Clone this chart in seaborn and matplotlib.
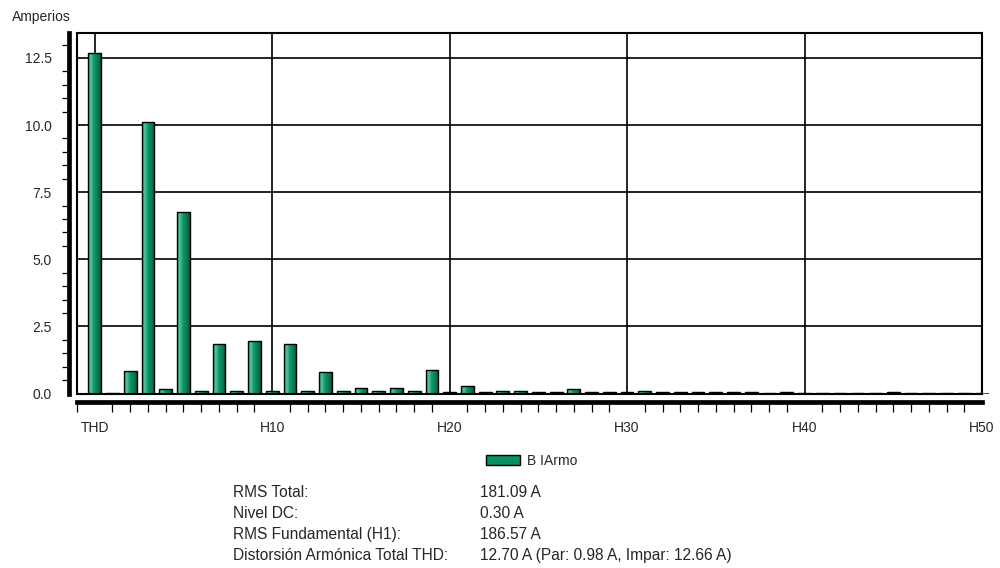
import numpy as np
import pandas as pd
import matplotlib
matplotlib.use("Agg")
import matplotlib.pyplot as plt
import seaborn as sns
from matplotlib.ticker import MultipleLocator, FixedLocator, FixedFormatter, FormatStrFormatter
from matplotlib.colors import LinearSegmentedColormap
from matplotlib.patches import Patch

# Harmonic orders (0 = THD) and their current amplitudes in amperes
armonicos = list(range(0, 51))
amperios = [
    12.70, 0.01, 0.85, 10.12, 0.16, 6.75, 0.09, 1.83, 0.09, 1.94,
    0.09, 1.83, 0.09, 0.80, 0.09, 0.20, 0.09, 0.20, 0.09, 0.89,
    0.04, 0.28, 0.05, 0.10, 0.10, 0.05, 0.05, 0.16, 0.05, 0.05,
    0.05, 0.10, 0.05, 0.05, 0.05, 0.05, 0.05, 0.05, 0.02, 0.05,
    0.02, 0.02, 0.02, 0.02, 0.02, 0.05, 0.02, 0.02, 0.02, 0.02,
    0.02,
]
x_ticks = [0, 10, 20, 30, 40, 50]
x_labels = ["THD", "H10", "H20", "H30", "H40", "H50"]
serie = "B IArmo"

etiquetas = ["RMS Total:", "Nivel DC:", "RMS Fundamental (H1):",
             "Distorsión Armónica Total THD:"]
valores = ["181.09 A", "0.30 A", "186.57 A",
           "12.70 A (Par: 0.98 A, Impar: 12.66 A)"]

sns.set_theme(style="white")
plt.rcParams["font.family"] = ["Liberation Sans", "DejaVu Sans"]
plt.rcParams["font.size"] = 10

verde = "#0a8f5f"
df = pd.DataFrame({"armonico": armonicos, "amperios": amperios})

fig = plt.figure(figsize=(10, 5.68), dpi=100)
ax = fig.add_axes([0.077, 0.3072, 0.905, 0.6347])

sns.barplot(data=df, x="armonico", y="amperios", native_scale=True,
            width=0.72, color=verde, edgecolor="black", linewidth=1.0,
            errorbar=None, ax=ax)

# Shaded cylinder-like fill for every bar
grad = LinearSegmentedColormap.from_list(
    "barra", [(0.0, "#2e9f74"), (0.22, "#5cc09a"), (0.45, "#12966a"),
              (0.8, "#007a50"), (1.0, "#00583a")])
ramp = np.linspace(0, 1, 64).reshape(1, -1)
for p in list(ax.patches):
    x0, y0 = p.get_x(), p.get_y()
    w, h = p.get_width(), p.get_height()
    if h <= 0:
        continue
    im = ax.imshow(ramp, cmap=grad, aspect="auto",
                   extent=(x0, x0 + w, y0, y0 + h), zorder=2,
                   interpolation="bilinear")
    im.set_clip_path(p)
    p.set_facecolor("none")
    p.set_zorder(3)

ax.set_xlim(-1, 50)
ax.set_ylim(0, 13.43)
ax.set_xlabel("")
ax.set_ylabel("")

ax.xaxis.set_major_locator(FixedLocator(x_ticks))
ax.xaxis.set_major_formatter(FixedFormatter(x_labels))
ax.xaxis.set_minor_locator(MultipleLocator(1))
ax.yaxis.set_major_locator(MultipleLocator(2.5))
ax.yaxis.set_major_formatter(FormatStrFormatter("%.1f"))
ax.yaxis.set_minor_locator(MultipleLocator(0.5))

ax.grid(True, which="major", color="black", linewidth=1.2)
ax.set_axisbelow(True)

for s in ("top", "right"):
    ax.spines[s].set_color("black")
    ax.spines[s].set_linewidth(1.5)
for s in ("left", "bottom"):
    ax.spines[s].set_color("black")
    ax.spines[s].set_linewidth(3.4)
    ax.spines[s].set_position(("outward", 5.9))

# Inner frame edges on the left and along the baseline
ax.plot([0, 0], [0, 1], transform=ax.transAxes, color="black", lw=1.5,
        clip_on=False, zorder=4)
ax.plot([0, 1], [0, 0], transform=ax.transAxes, color="black", lw=1.5,
        clip_on=False, zorder=4)

ax.tick_params(axis="y", which="major", direction="out", length=10,
               width=0.9, color="black", pad=2.4, labelsize=10)
ax.tick_params(axis="y", which="minor", direction="out", length=5.3,
               width=0.9, color="black", left=True)
ax.tick_params(axis="x", which="major", direction="out", length=9.6,
               width=0.9, color="black", pad=4, labelsize=10)
ax.tick_params(axis="x", which="minor", direction="out", length=7.2,
               width=0.9, color="black", bottom=True)

fig.text(0.0117, 1 - 16.7 / 568, "Amperios", fontsize=10,
         va="center", ha="left")

fig.legend(handles=[Patch(facecolor=verde, edgecolor="black", linewidth=1,
                          label=serie)],
           loc="center", bbox_to_anchor=(0.532, 1 - 461 / 568),
           frameon=False, fontsize=10, handlelength=2.45,
           handleheight=0.7, handletextpad=0.5)

ys = [492.8, 513.8, 534.8, 555.8]
for lab, val, y in zip(etiquetas, valores, ys):
    fy = 1 - y / 568
    fig.text(0.233, fy, lab, fontsize=11.2, va="center", ha="left")
    fig.text(0.480, fy, val, fontsize=11.2, va="center", ha="left")

fig.savefig("out.png", dpi=100)
